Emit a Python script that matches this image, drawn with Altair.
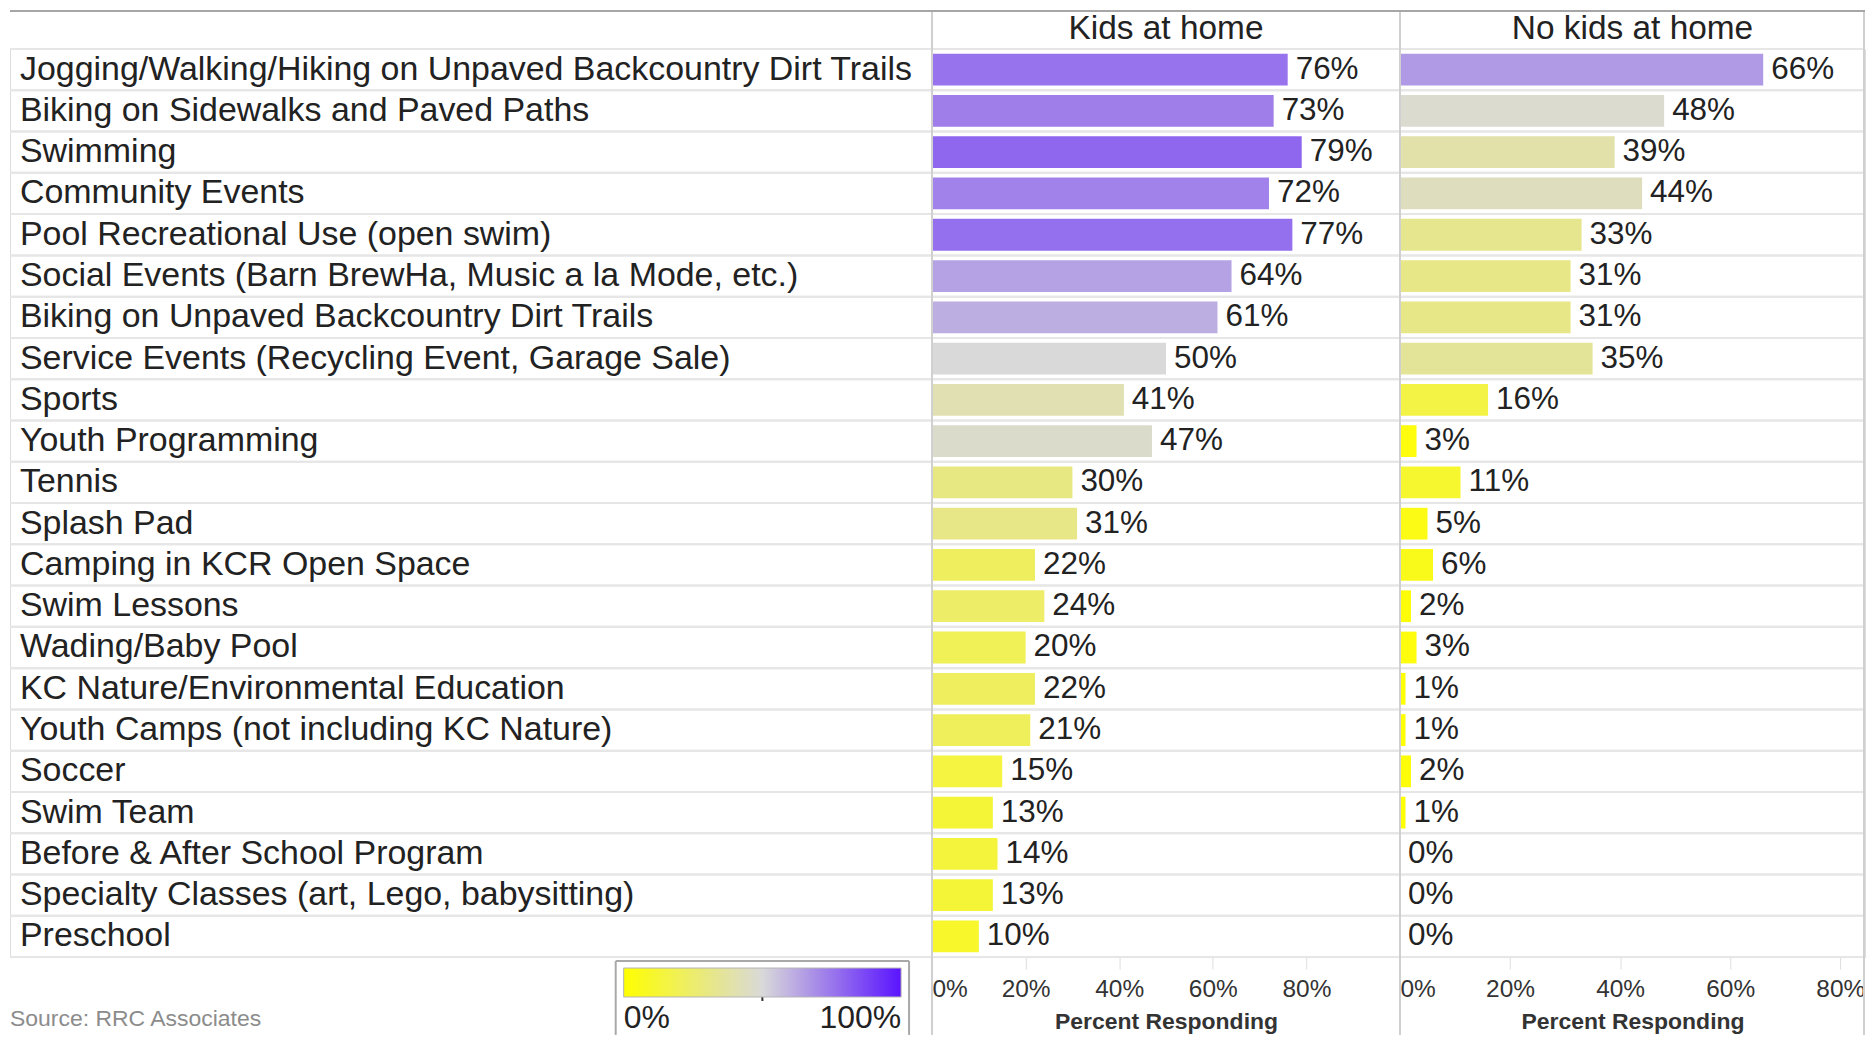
import altair as alt
import pandas as pd

# ---------------- data ----------------
activities = [
    "Jogging/Walking/Hiking on Unpaved Backcountry Dirt Trails",
    "Biking on Sidewalks and Paved Paths",
    "Swimming",
    "Community Events",
    "Pool Recreational Use (open swim)",
    "Social Events (Barn BrewHa, Music a la Mode, etc.)",
    "Biking on Unpaved Backcountry Dirt Trails",
    "Service Events (Recycling Event, Garage Sale)",
    "Sports",
    "Youth Programming",
    "Tennis",
    "Splash Pad",
    "Camping in KCR Open Space",
    "Swim Lessons",
    "Wading/Baby Pool",
    "KC Nature/Environmental Education",
    "Youth Camps (not including KC Nature)",
    "Soccer",
    "Swim Team",
    "Before & After School Program",
    "Specialty Classes (art, Lego, babysitting)",
    "Preschool",
]
kids_pct = [76, 73, 79, 72, 77, 64, 61, 50, 41, 47, 30, 31, 22, 24, 20, 22, 21, 15, 13, 14, 13, 10]
no_kids_pct = [66, 48, 39, 44, 33, 31, 31, 35, 16, 3, 11, 5, 6, 2, 3, 1, 1, 2, 1, 0, 0, 0]
groups = ["Kids at home", "No kids at home"]
axis_ticks = [0, 0.2, 0.4, 0.6, 0.8]
legend_ticks = [0, 1]
color_stops = [0, 0.5, 1]
color_range = ["#ffff00", "#d9d9d9", "#5a14ff"]
axis_title = "Percent Responding"
source_text = "Source: RRC Associates"

# ---------------- layout ----------------
FONT = "Liberation Sans"
W_LABEL, W_LEFT, W_RIGHT, H = 924, 469, 466, 910
X_MAX_LEFT, X_MAX_RIGHT = 1.0, 0.845
ROW_LINE = "#e6e6e6"
DIV_LINE = "#d0d0d0"
TEXT = "#222222"

cats = pd.DataFrame({"activity": activities})
df_kids = pd.DataFrame({"activity": activities, "value": [v / 100 for v in kids_pct]})
df_nokids = pd.DataFrame({"activity": activities, "value": [v / 100 for v in no_kids_pct]})
one = pd.DataFrame({"t": [source_text]})

yscale = alt.Scale(paddingInner=0, paddingOuter=0)


def y_enc(band_pos=None):
    if band_pos is None:
        return alt.Y("activity:N", sort=activities, scale=yscale, axis=None)
    return alt.Y("activity:N", sort=activities, scale=yscale, axis=None, bandPosition=band_pos)


def row_lines():
    top = alt.Chart(cats).mark_rule(color=ROW_LINE, strokeWidth=2).encode(y=y_enc(0))
    bottom = alt.Chart(cats).mark_rule(color=ROW_LINE, strokeWidth=2).encode(y=y_enc(1))
    return [top, bottom]


def top_line(width):
    return alt.Chart(one).mark_rule(color="#a6a6a6", strokeWidth=2).encode(
        x=alt.value(0), x2=alt.value(width), y=alt.value(-38)
    )


color_scale = alt.Scale(domain=color_stops, range=color_range, interpolate="rgb")
legend = alt.Legend(
    orient="none", legendX=615, legendY=921, direction="horizontal",
    gradientLength=278, gradientThickness=29, title=None, values=legend_ticks,
    format=".0%", labelFontSize=32, labelFont=FONT, labelColor=TEXT,
    labelOffset=6, padding=0, gradientStrokeColor="#b4b4b4", gradientStrokeWidth=1,
)

# ---------------- label panel ----------------
labels = alt.Chart(cats).mark_text(
    align="left", baseline="middle", fontSize=34, font=FONT, color=TEXT
).encode(y=y_enc(), x=alt.value(10), text="activity:N")

source = alt.Chart(one).mark_text(
    align="left", baseline="middle", fontSize=23, font=FONT, color="#8c8c8c"
).encode(x=alt.value(0), y=alt.value(H + 62), text="t:N")

box_left = alt.Chart(one).mark_rule(color="#a8a8a8", strokeWidth=2).encode(
    x=alt.value(607), y=alt.value(H + 4), y2=alt.value(H + 78))
box_right = alt.Chart(one).mark_rule(color="#a8a8a8", strokeWidth=2).encode(
    x=alt.value(901), y=alt.value(H + 4), y2=alt.value(H + 78))
box_top = alt.Chart(one).mark_rule(color="#a8a8a8", strokeWidth=2).encode(
    x=alt.value(607), x2=alt.value(901), y=alt.value(H + 4))
mid_tick = alt.Chart(one).mark_rule(color="#333333", strokeWidth=2).encode(
    x=alt.value(754), y=alt.value(H + 37), y2=alt.value(H + 44))

label_panel = alt.layer(
    *row_lines(), top_line(W_LABEL), labels, source, box_left, box_right, box_top, mid_tick
).properties(width=W_LABEL, height=H)


# ---------------- bar panels ----------------
def bar_panel(df, title, width, xmax, right_edge=False):
    x_enc = alt.X(
        "value:Q",
        scale=alt.Scale(domain=[0, xmax], nice=False, zero=True),
        axis=alt.Axis(
            values=axis_ticks, format=".0%", grid=False, domain=False,
            ticks=True, tickSize=12, tickColor="#dedede", tickWidth=1,
            labelFontSize=24.5, labelFont=FONT, labelColor="#333333",
            labelFlush=True, labelPadding=9,
            title=axis_title, titleFont=FONT, titleFontSize=23,
            titleFontWeight="bold", titleColor="#333333", titlePadding=9,
        ),
    )
    bars = alt.Chart(df).mark_bar(height={"band": 0.77}).encode(
        x=x_enc, y=y_enc(),
        color=alt.Color("value:Q", scale=color_scale, legend=legend),
    )
    vals = alt.Chart(df).mark_text(
        align="left", baseline="middle", dx=8, fontSize=31.5, font=FONT, color=TEXT
    ).encode(x="value:Q", y=y_enc(), text=alt.Text("value:Q", format=".0%"))
    vline = alt.Chart(one).mark_rule(color=DIV_LINE, strokeWidth=2).encode(
        x=alt.value(0), y=alt.value(-37), y2=alt.value(H + 78))
    header = alt.Chart(pd.DataFrame({"g": [title]})).mark_text(
        align="center", baseline="alphabetic", fontSize=33.5, font=FONT, color=TEXT
    ).encode(x=alt.value(width / 2), y=alt.value(-10), text="g:N")
    layers = [*row_lines(), top_line(width), bars, vals, vline, header]
    if right_edge:
        layers.append(alt.Chart(one).mark_rule(color=DIV_LINE, strokeWidth=2).encode(
            x=alt.value(width - 1), y=alt.value(-37), y2=alt.value(H + 78)))
    return alt.layer(*layers).properties(width=width, height=H)


left_panel = bar_panel(df_kids, groups[0], W_LEFT, X_MAX_LEFT)
right_panel = bar_panel(df_nokids, groups[1], W_RIGHT, X_MAX_RIGHT, right_edge=True)

chart = (
    alt.hconcat(label_panel, left_panel, right_panel, spacing=0, bounds="flush")
    .resolve_scale(color="shared", y="independent", x="independent")
    .properties(padding=0, background="white")
    .configure_view(stroke=None)
    .configure(font=FONT)
)

chart.save("out.html", embed_options={"renderer": "svg", "actions": False})
